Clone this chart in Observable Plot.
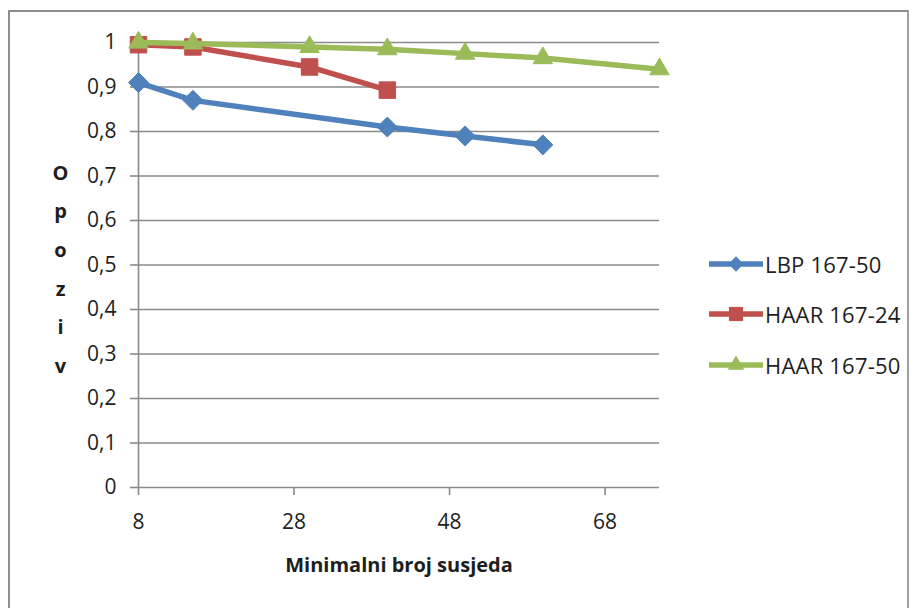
<!DOCTYPE html>
<html>
<head>
<meta charset="utf-8">
<script src="https://cdn.jsdelivr.net/npm/d3@7"></script>
<script src="https://cdn.jsdelivr.net/npm/@observablehq/plot@0.6"></script>
<style>
  html, body { margin: 0; padding: 0; background: #fff; }
  #wrap { position: relative; width: 915px; height: 608px; overflow: hidden; font-family: "Open Sans", sans-serif; }
  #frame { position: absolute; left: 8px; top: 10px; width: 901px; height: 640px;
           border-left: 2px solid #8e8e8e; border-top: 2px solid #8e8e8e; border-right: 2px solid #a0a0a0; box-sizing: border-box; }
  #chart { position: absolute; left: 0; top: 0; }
  .leg { position: absolute; left: 708px; height: 26px; display: flex; align-items: center; font-size: 22px; color: #1e1e1e; white-space: nowrap; letter-spacing: 0.2px; }
  .leg svg { margin-right: 1px; }
</style>
</head>
<body>
<div id="wrap">
  <div id="frame"></div>
  <div id="chart"></div>
</div>
<script>
// ---- data ----
const seriesNames = ["LBP 167-50", "HAAR 167-24", "HAAR 167-50"];
const seriesColors = ["#4F81BD", "#C0504D", "#9BBB59"];
const seriesSymbols = ["diamond2", "square", "triangle"];

const lbpX = [8, 15, 40, 50, 60];
const lbpY = [0.91, 0.87, 0.81, 0.79, 0.77];

const haar24X = [8, 15, 30, 40];
const haar24Y = [0.995, 0.99, 0.945, 0.893];

const haar50X = [8, 15, 30, 40, 50, 60, 75];
const haar50Y = [1.0, 0.998, 0.99, 0.985, 0.975, 0.965, 0.94];

const xTicks = [8, 28, 48, 68];
const yTicks = [0, 0.1, 0.2, 0.3, 0.4, 0.5, 0.6, 0.7, 0.8, 0.9, 1];

const xTitle = "Minimalni broj susjeda";
const yTitle = "Opoziv";

// ---- build table ----
const xs = [lbpX, haar24X, haar50X];
const ys = [lbpY, haar24Y, haar50Y];
const series = seriesNames.map((name, i) => xs[i].map((x, j) => ({series: name, x, y: ys[i][j]})));

const symSize = {"diamond2": 9.0, "square": 9.3, "triangle": 7.2};

const marks = [
  Plot.ruleY(yTicks, {stroke: "#8a8a8a", strokeWidth: 1.6}),
  Plot.ruleX([8], {stroke: "#8a8a8a", strokeWidth: 1.6}),
  Plot.axisY(yTicks, {tickSize: 8, tickPadding: 14, stroke: "#8a8a8a", strokeWidth: 1.6,
    tickFormat: d => String(+d.toFixed(1)).replace(".", ","), label: null, fontSize: 21}),
  Plot.axisX(xTicks, {tickSize: 8, tickPadding: 19, stroke: "#8a8a8a", strokeWidth: 1.6,
    tickFormat: d => String(d), label: null, fontSize: 21}),
  Plot.text([xTitle], {frameAnchor: "bottom", dy: 84, fontWeight: "bold", fontSize: 20, fill: "#1e1e1e"}),
  Plot.text([yTitle.split("").join("\n")], {frameAnchor: "left", dx: -78, dy: -1, lineHeight: 1.93,
    fontWeight: "bold", fontSize: 20, fill: "#1e1e1e", textAnchor: "middle"})
];
series.forEach((data, i) => {
  marks.push(Plot.line(data, {x: "x", y: "y", stroke: seriesColors[i], strokeWidth: 5.5, strokeLinejoin: "round"}));
  marks.push(Plot.dot(data, {x: "x", y: "y", symbol: () => seriesSymbols[i], r: symSize[seriesSymbols[i]],
    fill: seriesColors[i], stroke: seriesColors[i], strokeWidth: 1}));
});

const chart = Plot.plot({
  width: 915,
  height: 608,
  marginLeft: 138,
  marginRight: 256,
  marginTop: 42,
  marginBottom: 121,
  x: {domain: [8, 75]},
  y: {domain: [0, 1]},
  symbol: {type: "identity"},
  style: {fontFamily: "Open Sans", fontSize: "21px", color: "#1e1e1e", background: "transparent", overflow: "visible"},
  marks
});
document.getElementById("chart").appendChild(chart);

// ---- legend ----
const legTops = [264, 314, 365];
const wrap = document.getElementById("wrap");
seriesNames.forEach((name, i) => {
  const div = document.createElement("div");
  div.className = "leg";
  div.style.top = (legTops[i] - 13) + "px";
  const svg = d3.create("svg").attr("width", 56).attr("height", 26);
  svg.append("line").attr("x1", 1).attr("x2", 55).attr("y1", 13).attr("y2", 13)
    .attr("stroke", seriesColors[i]).attr("stroke-width", 5.5);
  const sym = {"diamond2": d3.symbolDiamond2, "square": d3.symbolSquare, "triangle": d3.symbolTriangle}[seriesSymbols[i]];
  const size = {"diamond2": 150, "square": 200, "triangle": 120}[seriesSymbols[i]];
  svg.append("path").attr("d", d3.symbol(sym, size)()).attr("transform", "translate(28,13)")
    .attr("fill", seriesColors[i]);
  div.appendChild(svg.node());
  const span = document.createElement("span");
  span.textContent = name;
  div.appendChild(span);
  wrap.appendChild(div);
});
</script>
</body>
</html>
